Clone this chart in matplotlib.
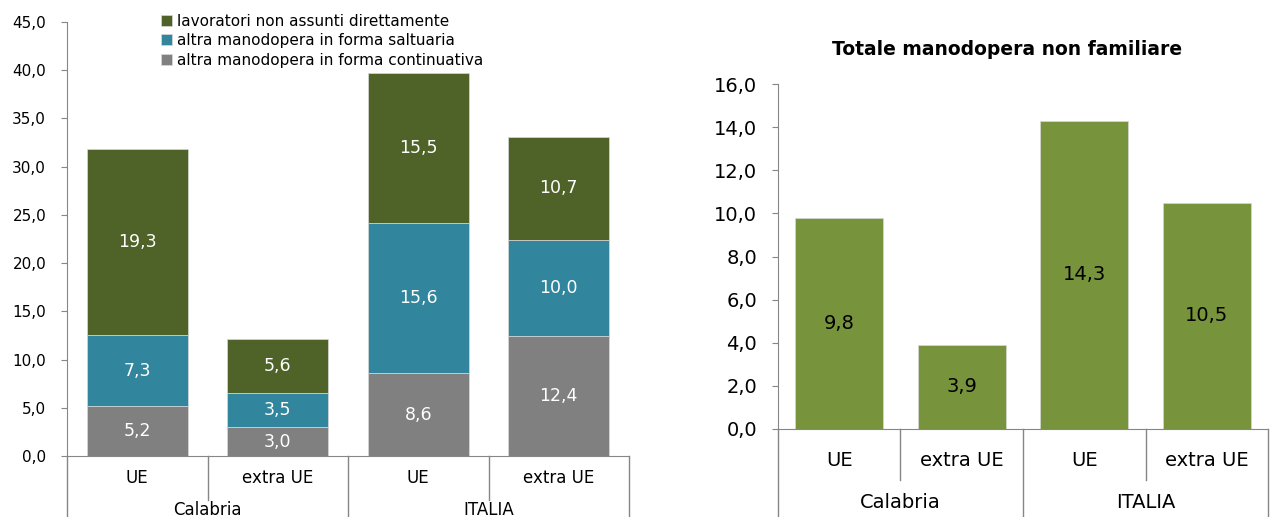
import numpy as np
import matplotlib.pyplot as plt

plt.rcParams['font.family'] = ['DejaVu Sans']

# data
sub_labels = ['UE', 'extra UE', 'UE', 'extra UE']
groups = ['Calabria', 'ITALIA']
continuativa = [5.2, 3.0, 8.6, 12.4]
saltuaria = [7.3, 3.5, 15.6, 10.0]
non_assunti = [19.3, 5.6, 15.5, 10.7]
totale = [9.8, 3.9, 14.3, 10.5]

c_cont = '#808080'
c_salt = '#31859C'
c_nonass = '#4F6228'
c_tot = '#77933C'
c_axis = '#868686'

W, H = 1271, 517
fig = plt.figure(figsize=(W / 100, H / 100), dpi=100)


def fmt(v):
    return f'{v:.1f}'.replace('.', ',')


def cat_axis(ax, inner_px, group_px, sub_y, grp_y, fs):
    # two-level category labels below the axis (Excel style)
    h = ax.get_position().height * H
    tr = ax.get_xaxis_transform()
    for x in [0.5, 2.5]:
        ax.plot([x, x], [0, -inner_px / h], transform=tr, color=c_axis, lw=1, clip_on=False)
    for x in [-0.5, 1.5, 3.5]:
        ax.plot([x, x], [0, -group_px / h], transform=tr, color=c_axis, lw=1, clip_on=False)
    for i, s in enumerate(sub_labels):
        ax.text(i, -sub_y / h, s, transform=tr, ha='center', va='center', fontsize=fs)
    for j, g in enumerate(groups):
        ax.text(0.5 + 2 * j, -grp_y / h, g, transform=tr, ha='center', va='center', fontsize=fs)


def style(ax):
    for s in ['top', 'right']:
        ax.spines[s].set_visible(False)
    ax.spines['left'].set_color(c_axis)
    ax.spines['bottom'].set_color(c_axis)
    ax.tick_params(axis='y', colors=c_axis, length=4, pad=11, labelcolor='black')
    ax.set_xticks([])
    ax.set_xlim(-0.5, 3.5)


# left chart: stacked bars
ax1 = fig.add_axes([67 / W, 1 - 456 / H, (629 - 67) / W, (456 - 22) / H])
x = np.arange(4)
bw = 0.72
b1 = ax1.bar(x, continuativa, bw, color=c_cont, edgecolor='#d9d9d9', lw=0.5,
             label='altra manodopera in forma continuativa')
bottom2 = np.array(continuativa)
b2 = ax1.bar(x, saltuaria, bw, bottom=bottom2, color=c_salt, edgecolor='#d9d9d9', lw=0.5,
             label='altra manodopera in forma saltuaria')
bottom3 = bottom2 + np.array(saltuaria)
b3 = ax1.bar(x, non_assunti, bw, bottom=bottom3, color=c_nonass, edgecolor='#d9d9d9', lw=0.5,
             label='lavoratori non assunti direttamente')
for vals, bots in [(continuativa, np.zeros(4)), (saltuaria, bottom2), (non_assunti, bottom3)]:
    for i in range(4):
        ax1.text(x[i], bots[i] + vals[i] / 2, fmt(vals[i]), ha='center', va='center',
                 color='white', fontsize=12.5)
ax1.set_ylim(0, 45)
ax1.set_yticks(np.arange(0, 46, 5))
ax1.set_yticklabels([fmt(v) for v in np.arange(0, 46, 5)], fontsize=11)
style(ax1)
cat_axis(ax1, 44, 61, 22, 54, 12)
ax1.legend(handles=[b3, b2, b1], loc='upper left', bbox_to_anchor=(0.154, 1.037),
           frameon=False, fontsize=11, handlelength=0.7, handleheight=0.7,
           handletextpad=0.35, labelspacing=0.3, borderpad=0)

# right chart: totals
ax2 = fig.add_axes([778 / W, 1 - 429 / H, (1268 - 778) / W, (429 - 84) / H])
ax2.bar(x, totale, bw, color=c_tot, edgecolor='#d9d9d9', lw=0.5)
for i in range(4):
    ax2.text(x[i], totale[i] / 2, fmt(totale[i]), ha='center', va='center', fontsize=14)
ax2.set_ylim(0, 16)
ax2.set_yticks(np.arange(0, 17, 2))
ax2.set_yticklabels([fmt(v) for v in np.arange(0, 17, 2)], fontsize=14)
style(ax2)
cat_axis(ax2, 51, 88, 31, 74, 14)
fig.text(1007 / W, 1 - 50 / H, 'Totale manodopera non familiare', fontsize=13.5,
         fontweight='bold', ha='center', va='center')

fig.savefig('out.png', dpi=100)
